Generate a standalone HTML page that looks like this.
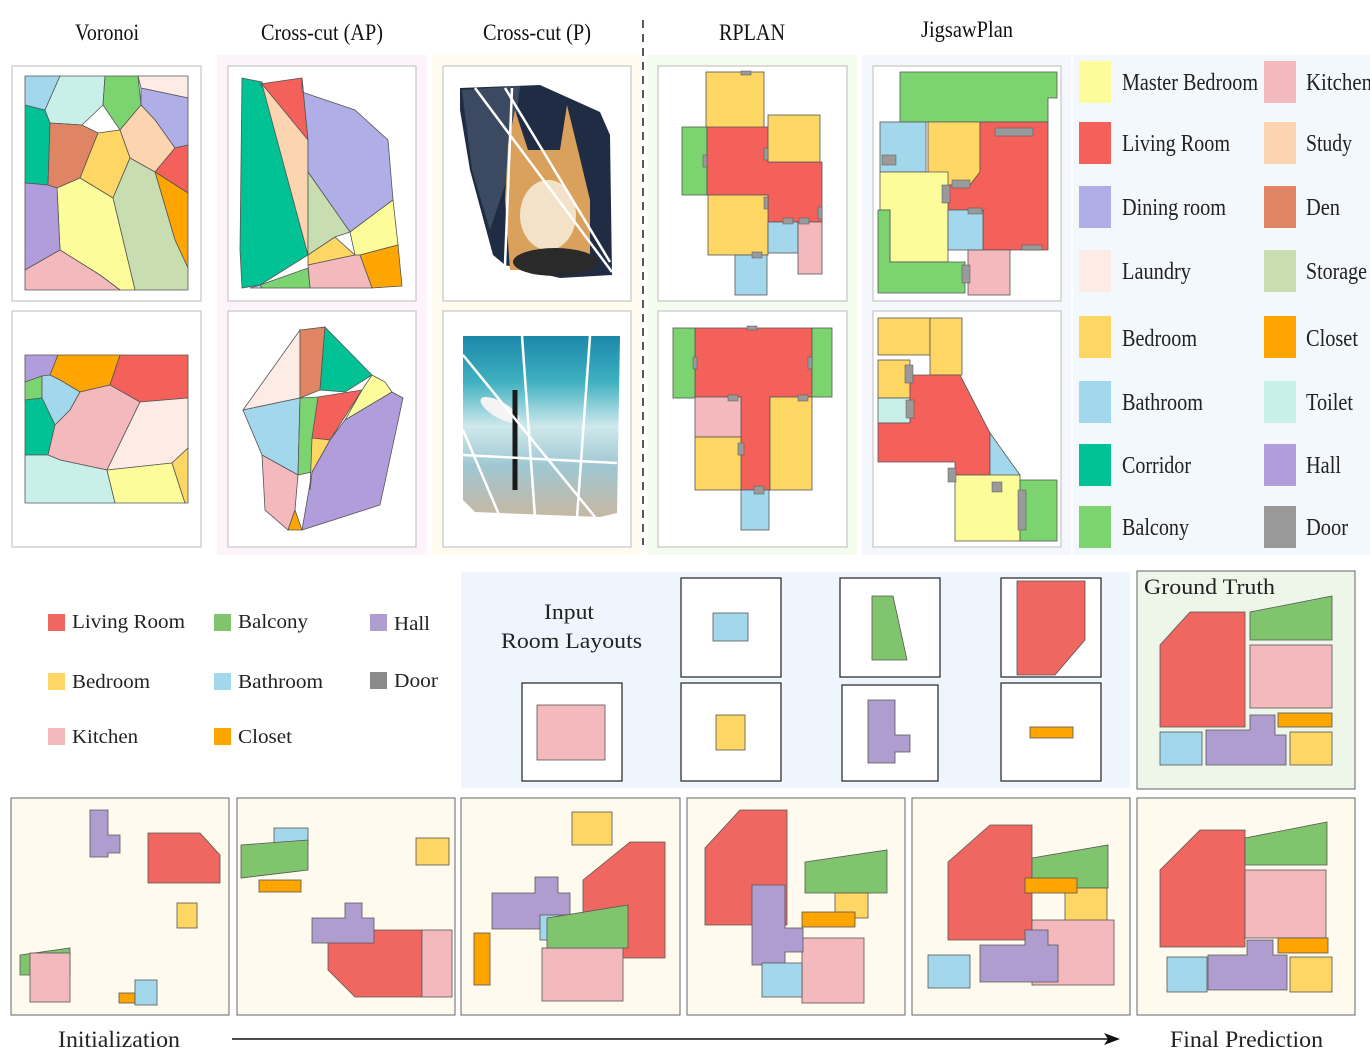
<!DOCTYPE html>
<html><head><meta charset="utf-8"><style>
body{margin:0;background:#fff}
svg{display:block;font-family:"Liberation Serif",serif}
.r{stroke:#555;stroke-width:.8}
.d{fill:#9a9a9a;stroke:#555;stroke-width:.5}
</style></head><body>
<svg width="1370" height="1053" viewBox="0 0 1370 1053">
<defs>
<linearGradient id="sea" x1="0" y1="0" x2="0" y2="1"><stop offset="0" stop-color="#1b88aa"/><stop offset=".25" stop-color="#3fb0c0"/><stop offset=".5" stop-color="#cfe9ec"/><stop offset=".72" stop-color="#9fc7d1"/><stop offset="1" stop-color="#c7b7a2"/></linearGradient>
</defs>
<g>
<rect x="217" y="55" width="210" height="500" fill="#fdf4fb"/>
<rect x="432" y="55" width="208" height="500" fill="#fffbee"/>
<rect x="648" y="55" width="209" height="500" fill="#f4fbef"/>
<rect x="862" y="55" width="209" height="500" fill="#f4f8fd"/>
<rect x="1073" y="55" width="297" height="500" fill="#f3f8fd"/>
</g>
<g font-size="23" fill="#111" lengthAdjust="spacingAndGlyphs">
<text x="75" y="40" textLength="64" lengthAdjust="spacingAndGlyphs">Voronoi</text>
<text x="261" y="40" textLength="122" lengthAdjust="spacingAndGlyphs">Cross-cut (AP)</text>
<text x="483" y="40" textLength="108" lengthAdjust="spacingAndGlyphs">Cross-cut (P)</text>
<text x="719" y="40" textLength="66" lengthAdjust="spacingAndGlyphs">RPLAN</text>
<text x="921" y="37" textLength="92" lengthAdjust="spacingAndGlyphs">JigsawPlan</text>
</g>
<line x1="643" y1="20" x2="643" y2="545" stroke="#222" stroke-width="1.5" stroke-dasharray="8,6"/>
<g fill="#fff" stroke="#bbb">
<rect x="12" y="66" width="189" height="235"/><rect x="12" y="311" width="189" height="236"/>
<rect x="228" y="66" width="188" height="235"/><rect x="228" y="311" width="188" height="236"/>
<rect x="443" y="66" width="188" height="235"/><rect x="443" y="311" width="188" height="236"/>
<rect x="658" y="66" width="189" height="235"/><rect x="658" y="311" width="189" height="236"/>
<rect x="873" y="66" width="188" height="235"/><rect x="873" y="311" width="188" height="236"/>
</g>
<g class="r">
<polygon points="25,105 45,110 50,123 48,185 25,183" fill="#00c295"/>
<polygon points="25,76 60,76 45,110 25,105" fill="#a3d8ec"/>
<polygon points="60,76 105,76 103,105 82,125 50,123 45,110" fill="#c9f0e8"/>
<polygon points="105,76 138,76 141,105 120,130 103,105" fill="#7bd46f"/>
<polygon points="138,76 188,76 188,98 141,88" fill="#fdece5"/>
<polygon points="141,88 188,98 188,145 175,148 155,120 141,105" fill="#b0aee6"/>
<polygon points="50,123 82,125 98,133 80,178 57,188 48,185" fill="#e08563"/>
<polygon points="120,130 141,105 155,120 175,148 155,172 130,158" fill="#fcd5b0"/>
<polygon points="98,133 120,130 130,158 113,198 80,178" fill="#fdd663"/>
<polygon points="175,148 188,145 188,193 155,172" fill="#f4605a"/>
<polygon points="155,172 188,193 188,268 175,240" fill="#fea500"/>
<polygon points="130,158 155,172 175,240 188,268 188,290 135,290 113,198" fill="#c9deb0"/>
<polygon points="57,188 80,178 113,198 135,290 120,290 100,275 60,250" fill="#fcfc9a"/>
<polygon points="25,183 48,185 57,188 60,250 25,270" fill="#b19ddb"/>
<polygon points="25,270 60,250 100,275 120,290 25,290" fill="#f4b9bd"/>
</g>
<g class="r">
<polygon points="25,355 58,355 50,375 25,382" fill="#b19ddb"/>
<polygon points="58,355 120,355 110,385 80,392 60,380 50,375" fill="#fea500"/>
<polygon points="120,355 188,355 188,398 140,402 110,385" fill="#f4605a"/>
<polygon points="25,382 42,376 42,398 25,400" fill="#7bd46f"/>
<polygon points="42,376 50,375 60,380 80,392 70,410 55,425 42,398" fill="#a3d8ec"/>
<polygon points="25,400 42,398 55,425 48,455 25,455" fill="#00c295"/>
<polygon points="55,425 70,410 80,392 110,385 140,402 107,470 60,460 48,455" fill="#f4b9bd"/>
<polygon points="140,402 188,398 188,448 172,463 107,470" fill="#fdece5"/>
<polygon points="25,455 48,455 60,460 107,470 115,503 25,503" fill="#c9f0e8"/>
<polygon points="107,470 172,463 185,503 115,503" fill="#fcfc9a"/>
<polygon points="172,463 188,448 188,503 185,503" fill="#fdd663"/>
</g>
<g class="r">
<polygon points="242,78 262,82 308,255 260,285 242,288 240,250" fill="#00c295"/>
<polygon points="260,84 302,78 308,140" fill="#f4605a"/>
<polygon points="262,84 308,140 308,255" fill="#fcd5b0"/>
<polygon points="302,78 302,92 355,110 388,140 393,200 350,232 308,172 308,140" fill="#b0aee6"/>
<polygon points="308,172 350,232 335,237 308,255" fill="#c9deb0"/>
<polygon points="308,255 335,237 355,255 308,265" fill="#fdd663"/>
<polygon points="350,232 393,200 398,245 360,255 355,255" fill="#fcfc9a"/>
<polygon points="360,255 398,245 402,286 372,288" fill="#fea500"/>
<polygon points="308,265 355,255 360,255 372,288 310,288" fill="#f4b9bd"/>
<polygon points="260,285 308,268 310,288 262,288" fill="#7bd46f"/>
<polygon points="250,288 260,285 262,288" fill="#a3d8ec"/>
</g>
<g class="r">
<polygon points="243,410 300,330 300,398" fill="#fdece5"/>
<polygon points="300,330 325,327 320,390 300,398" fill="#e08563"/>
<polygon points="325,327 372,375 345,392 320,390" fill="#00c295"/>
<polygon points="243,410 300,398 298,475 262,455" fill="#a3d8ec"/>
<polygon points="300,398 318,397 312,472 298,475" fill="#7bd46f"/>
<polygon points="318,397 362,390 330,440 312,438" fill="#f4605a"/>
<polygon points="362,390 372,375 385,382 392,392 345,420" fill="#fcfc9a"/>
<polygon points="392,392 403,398 380,505 302,530 312,472 330,440 345,420" fill="#b19ddb"/>
<polygon points="312,438 330,440 312,472 310,490" fill="#fdd663"/>
<polygon points="262,455 298,475 295,510 288,530 265,510" fill="#f4b9bd"/>
<polygon points="295,510 302,530 288,530" fill="#fea500"/>
</g>
<g>
<polygon points="460,88 540,85 600,112 610,135 612,275 560,278 505,265 493,255 470,170 460,110" fill="#1f2c44"/>
<polygon points="462,90 520,86 510,170 490,230 472,170" fill="#3b4a60"/>
<polygon points="508,145 515,110 528,150 560,150 567,105 578,150 590,200 590,270 510,270 505,200" fill="#d9a15c"/>
<ellipse cx="548" cy="215" rx="28" ry="35" fill="#f3e2c8"/>
<ellipse cx="555" cy="262" rx="42" ry="14" fill="#2a2a2a"/>
<g stroke="#fff" stroke-width="2.5"><line x1="475" y1="88" x2="612" y2="272"/><line x1="505" y1="88" x2="610" y2="262"/><line x1="512" y1="88" x2="505" y2="265"/></g>
</g>
<g>
<polygon points="463,336 620,336 617,513 600,517 475,512 463,500" fill="url(#sea)"/>
<ellipse cx="500" cy="410" rx="22" ry="8" fill="#f4f4f4" transform="rotate(30 500 410)"/>
<line x1="515" y1="390" x2="515" y2="490" stroke="#1a1a1a" stroke-width="5"/>
<g stroke="#fff" stroke-width="2.5"><line x1="463" y1="355" x2="595" y2="517"/><line x1="522" y1="336" x2="535" y2="517"/><line x1="590" y1="336" x2="577" y2="517"/><line x1="463" y1="455" x2="617" y2="463"/><line x1="463" y1="430" x2="500" y2="517"/></g>
</g>
<g class="r">
<rect x="706" y="72" width="58" height="56" fill="#fdd663"/>
<rect x="682" y="127" width="25" height="68" fill="#7bd46f"/>
<polygon points="707,127 768,127 768,162 822,162 822,222 768,222 768,195 707,195" fill="#f4605a"/>
<rect x="768" y="115" width="52" height="47" fill="#fdd663"/>
<rect x="708" y="195" width="60" height="60" fill="#fdd663"/>
<rect x="768" y="222" width="30" height="31" fill="#a3d8ec"/>
<rect x="798" y="222" width="24" height="52" fill="#f4b9bd"/>
<rect x="735" y="255" width="32" height="40" fill="#a3d8ec"/>
<rect class="d" x="741" y="71" width="10" height="4"/><rect class="d" x="703" y="155" width="4" height="12"/><rect class="d" x="764" y="148" width="4" height="12"/><rect class="d" x="764" y="197" width="4" height="12"/><rect class="d" x="783" y="218" width="10" height="6"/><rect class="d" x="799" y="218" width="10" height="6"/><rect class="d" x="818" y="207" width="4" height="12"/><rect class="d" x="752" y="252" width="10" height="6"/>
</g>
<g class="r">
<polygon points="695,328 812,328 812,397 770,397 770,490 741,490 741,397 695,397" fill="#f4605a"/>
<rect x="673" y="328" width="22" height="70" fill="#7bd46f"/>
<rect x="812" y="328" width="20" height="69" fill="#7bd46f"/>
<rect x="695" y="397" width="46" height="40" fill="#f4b9bd"/>
<rect x="770" y="397" width="42" height="93" fill="#fdd663"/>
<rect x="695" y="437" width="46" height="53" fill="#fdd663"/>
<rect x="741" y="490" width="28" height="40" fill="#a3d8ec"/>
<rect class="d" x="747" y="326" width="10" height="4"/><rect class="d" x="693" y="357" width="4" height="12"/><rect class="d" x="808" y="357" width="4" height="12"/><rect class="d" x="728" y="395" width="10" height="6"/><rect class="d" x="798" y="395" width="10" height="6"/><rect class="d" x="738" y="443" width="6" height="12"/><rect class="d" x="754" y="486" width="10" height="8"/>
</g>
<g class="r">
<polygon points="900,72 1057,72 1057,98 1048,98 1048,122 900,122" fill="#7bd46f"/>
<rect x="880" y="122" width="46" height="50" fill="#a3d8ec"/>
<polygon points="928,122 980,122 980,172 970,185 928,185" fill="#fdd663"/>
<polygon points="980,122 1048,122 1048,250 983,250 983,210 948,210 948,185 970,185 980,172" fill="#f4605a"/>
<polygon points="880,172 948,172 948,262 890,262 890,210 880,210" fill="#fcfc9a"/>
<rect x="948" y="210" width="35" height="40" fill="#a3d8ec"/>
<polygon points="878,210 890,210 890,262 965,262 965,293 878,293" fill="#7bd46f"/>
<rect x="968" y="250" width="42" height="45" fill="#f4b9bd"/>
<rect class="d" x="995" y="128" width="38" height="8"/><rect class="d" x="882" y="155" width="14" height="10"/><rect class="d" x="942" y="185" width="8" height="18"/><rect class="d" x="952" y="180" width="18" height="8"/><rect class="d" x="968" y="208" width="14" height="6"/><rect class="d" x="962" y="265" width="8" height="18"/><rect class="d" x="1022" y="245" width="20" height="5"/>
</g>
<g class="r">
<rect x="878" y="318" width="52" height="37" fill="#fdd663"/>
<rect x="930" y="318" width="32" height="57" fill="#fdd663"/>
<rect x="878" y="360" width="32" height="38" fill="#fdd663"/>
<rect x="878" y="398" width="32" height="25" fill="#c9f0e8"/>
<polygon points="910,375 960,375 990,433 990,475 955,475 955,462 878,462 878,423 910,423" fill="#f4605a"/>
<polygon points="990,433 1020,475 990,480" fill="#a3d8ec"/>
<rect x="955" y="475" width="65" height="66" fill="#fcfc9a"/>
<rect x="1020" y="480" width="37" height="61" fill="#7bd46f"/>
<rect class="d" x="905" y="365" width="8" height="18"/><rect class="d" x="906" y="400" width="8" height="18"/><rect class="d" x="948" y="468" width="8" height="14"/><rect class="d" x="992" y="482" width="10" height="10"/><rect class="d" x="1018" y="490" width="8" height="40"/>
</g>
<g font-size="24" fill="#222">
<rect x="1079" y="61" width="32" height="42" fill="#fcfc9a"/><text x="1122" y="90" textLength="136" lengthAdjust="spacingAndGlyphs">Master Bedroom</text>
<rect x="1264" y="61" width="32" height="42" fill="#f4b9bd"/><text x="1306" y="90" textLength="66" lengthAdjust="spacingAndGlyphs">Kitchen</text>
<rect x="1079" y="122" width="32" height="42" fill="#f4605a"/><text x="1122" y="151" textLength="108" lengthAdjust="spacingAndGlyphs">Living Room</text>
<rect x="1264" y="122" width="32" height="42" fill="#fcd5b0"/><text x="1306" y="151" textLength="46" lengthAdjust="spacingAndGlyphs">Study</text>
<rect x="1079" y="186" width="32" height="42" fill="#b0aee6"/><text x="1122" y="215" textLength="104" lengthAdjust="spacingAndGlyphs">Dining room</text>
<rect x="1264" y="186" width="32" height="42" fill="#e08563"/><text x="1306" y="215" textLength="34" lengthAdjust="spacingAndGlyphs">Den</text>
<rect x="1079" y="250" width="32" height="42" fill="#fdece5"/><text x="1122" y="279" textLength="69" lengthAdjust="spacingAndGlyphs">Laundry</text>
<rect x="1264" y="250" width="32" height="42" fill="#c9deb0"/><text x="1306" y="279" textLength="61" lengthAdjust="spacingAndGlyphs">Storage</text>
<rect x="1079" y="316" width="32" height="42" fill="#fdd663"/><text x="1122" y="346" textLength="75" lengthAdjust="spacingAndGlyphs">Bedroom</text>
<rect x="1264" y="316" width="32" height="42" fill="#fea500"/><text x="1306" y="346" textLength="52" lengthAdjust="spacingAndGlyphs">Closet</text>
<rect x="1079" y="381" width="32" height="42" fill="#a3d8ec"/><text x="1122" y="410" textLength="81" lengthAdjust="spacingAndGlyphs">Bathroom</text>
<rect x="1264" y="381" width="32" height="42" fill="#c9f0e8"/><text x="1306" y="410" textLength="47" lengthAdjust="spacingAndGlyphs">Toilet</text>
<rect x="1079" y="444" width="32" height="42" fill="#00c295"/><text x="1122" y="473" textLength="69" lengthAdjust="spacingAndGlyphs">Corridor</text>
<rect x="1264" y="444" width="32" height="42" fill="#b19ddb"/><text x="1306" y="473" textLength="35" lengthAdjust="spacingAndGlyphs">Hall</text>
<rect x="1079" y="506" width="32" height="42" fill="#7bd46f"/><text x="1122" y="535" textLength="67" lengthAdjust="spacingAndGlyphs">Balcony</text>
<rect x="1264" y="506" width="32" height="42" fill="#999"/><text x="1306" y="535" textLength="42" lengthAdjust="spacingAndGlyphs">Door</text>
</g>
<g font-size="20" fill="#222">
<rect x="48" y="614" width="17" height="17" fill="#f06762"/><text x="72" y="628" textLength="113" lengthAdjust="spacingAndGlyphs">Living Room</text>
<rect x="214" y="614" width="17" height="17" fill="#80c56d"/><text x="238" y="628" textLength="70" lengthAdjust="spacingAndGlyphs">Balcony</text>
<rect x="370" y="614" width="17" height="17" fill="#b09dd0"/><text x="394" y="630" textLength="36" lengthAdjust="spacingAndGlyphs">Hall</text>
<rect x="48" y="673" width="17" height="17" fill="#fdd663"/><text x="72" y="688" textLength="78" lengthAdjust="spacingAndGlyphs">Bedroom</text>
<rect x="214" y="673" width="17" height="17" fill="#a3d8ec"/><text x="238" y="688" textLength="85" lengthAdjust="spacingAndGlyphs">Bathroom</text>
<rect x="370" y="672" width="17" height="17" fill="#8a8a8a"/><text x="394" y="687" textLength="44" lengthAdjust="spacingAndGlyphs">Door</text>
<rect x="48" y="728" width="17" height="17" fill="#f4b9bd"/><text x="72" y="743" textLength="66" lengthAdjust="spacingAndGlyphs">Kitchen</text>
<rect x="214" y="728" width="17" height="17" fill="#fea500"/><text x="238" y="743" textLength="54" lengthAdjust="spacingAndGlyphs">Closet</text>
</g>
<g>
<rect x="461" y="572" width="669" height="216" fill="#eef5fc"/>
<text x="544" y="619" font-size="22" textLength="50" lengthAdjust="spacingAndGlyphs" fill="#222">Input</text>
<text x="501" y="648" font-size="22" textLength="141" lengthAdjust="spacingAndGlyphs" fill="#222">Room Layouts</text>
<g fill="#fff" stroke="#222" stroke-width="1.2">
<rect x="681" y="578" width="100" height="99"/><rect x="840" y="578" width="100" height="99"/><rect x="1001" y="578" width="100" height="99"/>
<rect x="522" y="683" width="100" height="98"/><rect x="681" y="683" width="100" height="98"/><rect x="842" y="685" width="96" height="96"/><rect x="1001" y="683" width="100" height="98"/>
</g>
<g class="r">
<rect x="713" y="613" width="35" height="28" fill="#a3d8ec"/>
<polygon points="872,596 893,596 907,660 872,660" fill="#80c56d"/>
<polygon points="1017,581 1085,581 1085,640 1055,675 1017,675" fill="#f06762"/>
<rect x="537" y="705" width="68" height="55" fill="#f4b9bd"/>
<rect x="716" y="715" width="29" height="35" fill="#fdd663"/>
<polygon points="868,700 895,700 895,735 910,735 910,752 895,752 895,763 868,763" fill="#b09dd0"/>
<rect x="1030" y="727" width="43" height="11" fill="#fea500"/>
</g>
</g>
<g>
<rect x="1137" y="571" width="218" height="218" fill="#eef5e9" stroke="#666"/>
<text x="1144" y="594" font-size="22" textLength="131" lengthAdjust="spacingAndGlyphs" fill="#222">Ground Truth</text>
<g class="r">
<polygon points="1160,645 1190,612 1245,612 1245,727 1160,727" fill="#f06762"/>
<polygon points="1250,612 1332,596 1332,640 1250,640" fill="#80c56d"/>
<rect x="1250" y="645" width="82" height="63" fill="#f4b9bd"/>
<rect x="1278" y="713" width="54" height="14" fill="#fea500"/>
<rect x="1160" y="732" width="42" height="33" fill="#a3d8ec"/>
<polygon points="1206,730 1250,730 1250,715 1275,715 1275,735 1286,735 1286,765 1206,765" fill="#b09dd0"/>
<rect x="1290" y="732" width="42" height="33" fill="#fdd663"/>
</g>
</g>
<g fill="#fffaee" stroke="#666">
<rect x="11" y="798" width="218" height="217"/><rect x="237" y="798" width="218" height="217"/><rect x="461" y="798" width="219" height="217"/><rect x="687" y="798" width="218" height="217"/><rect x="912" y="798" width="218" height="217"/><rect x="1137" y="798" width="218" height="217"/>
</g>
<g class="r">
<polygon points="90,810 108,810 108,835 120,835 120,853 108,853 108,857 90,857" fill="#b09dd0"/>
<polygon points="148,833 200,833 220,855 220,883 148,883" fill="#f06762"/>
<rect x="177" y="903" width="20" height="25" fill="#fdd663"/>
<polygon points="20,955 70,948 70,975 20,975" fill="#80c56d"/>
<rect x="30" y="953" width="40" height="49" fill="#f4b9bd"/>
<rect x="119" y="993" width="16" height="10" fill="#fea500"/>
<rect x="135" y="980" width="22" height="25" fill="#a3d8ec"/>
</g>
<g class="r">
<rect x="274" y="828" width="34" height="17" fill="#a3d8ec"/>
<polygon points="241,845 308,840 308,870 241,878" fill="#80c56d"/>
<rect x="259" y="880" width="42" height="12" fill="#fea500"/>
<rect x="416" y="838" width="33" height="27" fill="#fdd663"/>
<polygon points="328,930 422,930 422,997 355,997 328,970" fill="#f06762"/>
<rect x="422" y="930" width="30" height="67" fill="#f4b9bd"/>
<polygon points="312,918 345,918 345,903 362,903 362,918 374,918 374,943 312,943" fill="#b09dd0"/>
</g>
<g class="r">
<rect x="572" y="812" width="40" height="33" fill="#fdd663"/>
<polygon points="583,880 630,842 665,842 665,958 583,958" fill="#f06762"/>
<polygon points="492,893 535,893 535,877 558,877 558,893 570,893 570,929 492,929" fill="#b09dd0"/>
<rect x="540" y="915" width="30" height="25" fill="#a3d8ec"/>
<rect x="542" y="948" width="81" height="53" fill="#f4b9bd"/>
<polygon points="547,918 628,905 628,948 547,948" fill="#80c56d"/>
<rect x="474" y="933" width="16" height="52" fill="#fea500"/>
</g>
<g class="r">
<polygon points="705,848 740,810 787,810 787,925 705,925" fill="#f06762"/>
<polygon points="805,862 887,850 887,893 805,893" fill="#80c56d"/>
<rect x="835" y="893" width="33" height="25" fill="#fdd663"/>
<rect x="802" y="938" width="62" height="65" fill="#f4b9bd"/>
<polygon points="752,885 785,885 785,928 803,928 803,952 785,952 785,965 752,965" fill="#b09dd0"/>
<rect x="802" y="912" width="53" height="15" fill="#fea500"/>
<rect x="762" y="963" width="40" height="34" fill="#a3d8ec"/>
</g>
<g class="r">
<polygon points="948,862 990,825 1032,825 1032,940 948,940" fill="#f06762"/>
<polygon points="1032,858 1108,845 1108,888 1032,888" fill="#80c56d"/>
<rect x="1065" y="888" width="42" height="34" fill="#fdd663"/>
<rect x="1032" y="920" width="82" height="65" fill="#f4b9bd"/>
<rect x="1025" y="878" width="52" height="15" fill="#fea500"/>
<polygon points="980,945 1025,945 1025,930 1048,930 1048,945 1058,945 1058,982 980,982" fill="#b09dd0"/>
<rect x="928" y="955" width="42" height="33" fill="#a3d8ec"/>
</g>
<g class="r">
<polygon points="1160,870 1200,830 1245,830 1245,947 1160,947" fill="#f06762"/>
<polygon points="1245,838 1327,822 1327,865 1245,865" fill="#80c56d"/>
<rect x="1245" y="870" width="81" height="68" fill="#f4b9bd"/>
<rect x="1278" y="938" width="50" height="15" fill="#fea500"/>
<rect x="1167" y="957" width="40" height="35" fill="#a3d8ec"/>
<polygon points="1208,955 1247,955 1247,940 1273,940 1273,955 1287,955 1287,990 1208,990" fill="#b09dd0"/>
<rect x="1290" y="957" width="42" height="35" fill="#fdd663"/>
</g>
<g>
<text x="58" y="1047" font-size="23" textLength="122" lengthAdjust="spacingAndGlyphs" fill="#222">Initialization</text>
<text x="1170" y="1047" font-size="23" textLength="153" lengthAdjust="spacingAndGlyphs" fill="#222">Final Prediction</text>
<line x1="232" y1="1039" x2="1110" y2="1039" stroke="#111" stroke-width="1.5"/>
<polygon points="1120,1039 1104,1033 1108,1039 1104,1045" fill="#111"/>
</g>
</svg>
</body></html>
